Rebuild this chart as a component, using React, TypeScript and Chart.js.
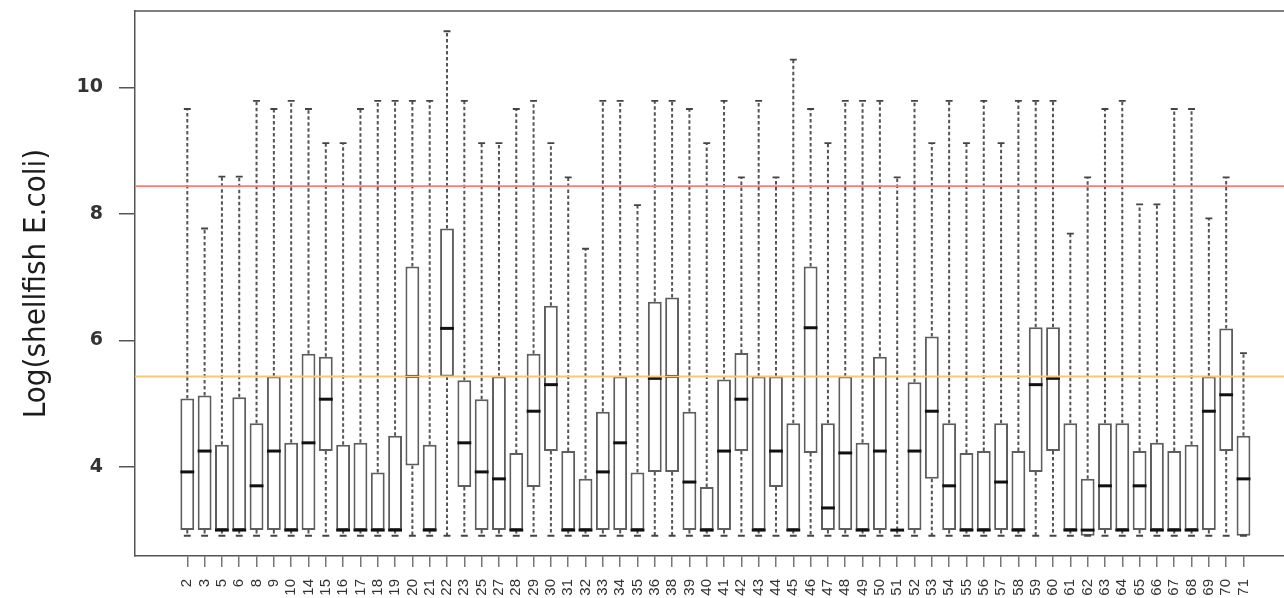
import React, { useEffect, useRef } from "react";
import { Chart, registerables } from "chart.js";

Chart.register(...registerables);

// ---- data ----
const categories = [
  "2", "3", "5", "6", "8", "9", "10", "14", "15", "16", "17", "18", "19",
  "20", "21", "22", "23", "25", "27", "28", "29",
  "30", "31", "32", "33", "34", "35", "36", "38", "39",
  "40", "41", "42", "43", "44", "45", "46", "47", "48", "49",
  "50", "51", "52", "53", "54", "55", "56", "57", "58", "59",
  "60", "61", "62", "63", "64", "65", "66", "67", "68", "69",
  "70", "71",
];

const q3 = [
  5.08, 5.13, 4.35, 5.10, 4.69, 5.43, 4.38, 5.79, 5.74, 4.35,
  4.38, 3.91, 4.49, 7.17, 4.35, 7.77, 5.37, 5.07, 5.43, 4.22,
  5.79, 6.55, 4.25, 3.81, 4.87, 5.43, 3.91, 6.61, 6.68, 4.87,
  3.68, 5.38, 5.80, 5.43, 5.43, 4.69, 7.17, 4.69, 5.43, 4.38,
  5.74, 3.00, 5.34, 6.06, 4.69, 4.22, 4.25, 4.69, 4.25, 6.21,
  6.21, 4.69, 3.81, 4.69, 4.69, 4.25, 4.38, 4.25, 4.35, 5.43,
  6.19, 4.49,
];

const median = [
  3.92, 4.25, 3.00, 3.00, 3.70, 4.25, 3.00, 4.38, 5.07, 3.00,
  3.00, 3.00, 3.00, 5.43, 3.00, 6.19, 4.38, 3.92, 3.81, 3.00,
  4.88, 5.30, 3.00, 3.00, 3.92, 4.38, 3.00, 5.40, 5.43, 3.76,
  3.00, 4.25, 5.07, 3.00, 4.25, 3.00, 6.20, 3.35, 4.22, 3.00,
  4.25, 3.00, 4.25, 4.88, 3.70, 3.00, 3.00, 3.76, 3.00, 5.30,
  5.40, 3.00, 3.00, 3.70, 3.00, 3.70, 3.00, 3.00, 3.00, 4.88,
  5.14, 3.81,
];

const q1 = [
  3.00, 3.00, 3.00, 3.00, 3.00, 3.00, 3.00, 3.00, 4.25, 3.00,
  3.00, 3.00, 3.00, 4.02, 3.00, 5.43, 3.68, 3.00, 3.00, 3.00,
  3.68, 4.25, 3.00, 3.00, 3.00, 3.00, 3.00, 3.92, 3.92, 3.00,
  3.00, 3.00, 4.25, 3.00, 3.68, 3.00, 4.22, 3.00, 3.00, 3.00,
  3.00, 3.00, 3.00, 3.81, 3.00, 3.00, 3.00, 3.00, 3.00, 3.92,
  4.25, 3.00, 2.91, 3.00, 3.00, 3.00, 3.00, 3.00, 3.00, 3.00,
  4.25, 2.91,
];

const whiskerHigh = [
  9.66, 7.77, 8.59, 8.59, 9.79, 9.66, 9.79, 9.66, 9.12, 9.12,
  9.66, 9.79, 9.79, 9.79, 9.79, 10.89, 9.79, 9.12, 9.12, 9.66,
  9.79, 9.12, 8.58, 7.45, 9.79, 9.79, 8.14, 9.79, 9.79, 9.66,
  9.12, 9.79, 8.58, 9.79, 8.58, 10.44, 9.66, 9.12, 9.79, 9.79,
  9.79, 8.58, 9.79, 9.12, 9.79, 9.12, 9.79, 9.12, 9.79, 9.79,
  9.79, 7.69, 8.58, 9.66, 9.79, 8.15, 8.15, 9.66, 9.66, 7.93,
  8.58, 5.80,
];

const whiskerLow = [
  2.91, 2.91, 2.91, 2.91, 2.91, 2.91, 2.91, 2.91, 2.91, 2.91,
  2.91, 2.91, 2.91, 2.91, 2.91, 2.91, 2.91, 2.91, 2.91, 2.91,
  2.91, 2.91, 2.91, 2.91, 2.91, 2.91, 2.91, 2.91, 2.91, 2.91,
  2.91, 2.91, 2.91, 2.91, 2.91, 2.91, 2.91, 2.91, 2.91, 2.91,
  2.91, 2.91, 2.91, 2.91, 2.91, 2.91, 2.91, 2.91, 2.91, 2.91,
  2.91, 2.91, 2.91, 2.91, 2.91, 2.91, 2.91, 2.91, 2.91, 2.91,
  2.91, 2.91,
];

const yTicks = [4, 6, 8, 10];
const upperLimit = 8.44;
const lowerLimit = 5.43;
const yTitle = "Log(shellfish E.coli)";

const boxExtras = {
  id: "boxExtras",
  afterDatasetsDraw(chart: any) {
    const { ctx, chartArea, scales } = chart;
    const x = scales.x;
    const y = scales.y;
    const meta = chart.getDatasetMeta(0);
    ctx.save();
    categories.forEach((_, i) => {
      const el = meta.data[i];
      const cx = x.getPixelForValue(i + 1);
      const half = el ? el.width / 2 : 7;
      const pHigh = y.getPixelForValue(whiskerHigh[i]);
      const pLow = y.getPixelForValue(whiskerLow[i]);
      const pQ3 = y.getPixelForValue(q3[i]);
      const pQ1 = y.getPixelForValue(q1[i]);
      const pMed = y.getPixelForValue(median[i]);

      // dashed whiskers
      ctx.setLineDash([3.5, 2.5]);
      ctx.strokeStyle = "#555555";
      ctx.lineWidth = 2;
      ctx.beginPath();
      if (whiskerHigh[i] > q3[i]) {
        ctx.moveTo(cx, pQ3);
        ctx.lineTo(cx, pHigh);
      }
      if (whiskerLow[i] < q1[i]) {
        ctx.moveTo(cx, pQ1);
        ctx.lineTo(cx, pLow);
      }
      ctx.stroke();

      // staples
      ctx.setLineDash([]);
      ctx.strokeStyle = "#444";
      ctx.lineWidth = 1.8;
      ctx.beginPath();
      ctx.moveTo(cx - half / 2, pHigh);
      ctx.lineTo(cx + half / 2, pHigh);
      ctx.moveTo(cx - half / 2, pLow);
      ctx.lineTo(cx + half / 2, pLow);
      ctx.stroke();

      // median
      ctx.strokeStyle = "#111";
      ctx.lineWidth = 3;
      ctx.beginPath();
      ctx.moveTo(cx - half, pMed);
      ctx.lineTo(cx + half, pMed);
      ctx.stroke();
    });

    // reference lines
    ctx.lineWidth = 1.6;
    ctx.strokeStyle = "#ff7a7a";
    const pu = y.getPixelForValue(upperLimit);
    ctx.beginPath();
    ctx.moveTo(chartArea.left, pu);
    ctx.lineTo(chartArea.right, pu);
    ctx.stroke();
    ctx.strokeStyle = "#fcc673";
    ctx.lineWidth = 2;
    const pl = y.getPixelForValue(lowerLimit);
    ctx.beginPath();
    ctx.moveTo(chartArea.left, pl);
    ctx.lineTo(chartArea.right, pl);
    ctx.stroke();

    // top frame
    ctx.strokeStyle = "#555";
    ctx.lineWidth = 1.5;
    ctx.beginPath();
    ctx.moveTo(chartArea.left, chartArea.top);
    ctx.lineTo(chartArea.right, chartArea.top);
    ctx.stroke();
    ctx.restore();
  },
};

export default function App() {
  const canvasRef = useRef<HTMLCanvasElement | null>(null);

  useEffect(() => {
    if (!canvasRef.current) return;
    const chart = new Chart(canvasRef.current, {
      type: "bar",
      data: {
        datasets: [
          {
            data: categories.map((_, i) => ({ x: i + 1, y: [q1[i], q3[i]] })) as any,
            backgroundColor: "#ffffff",
            borderColor: "#5e5e5e",
            borderWidth: 2,
            borderSkipped: false,
            barPercentage: 0.8,
            categoryPercentage: 1.0,
          },
        ],
      },
      options: {
        animation: false,
        responsive: true,
        maintainAspectRatio: false,
        layout: { padding: { top: 11, left: 0, right: 0, bottom: 0 } },
        plugins: {
          legend: { display: false },
          tooltip: { enabled: false },
          title: { display: false },
        },
        scales: {
          x: {
            type: "linear",
            min: -2.02,
            max: 64.34,
            offset: false,
            afterBuildTicks: (scale: any) => {
              scale.ticks = categories.map((_, i) => ({ value: i + 1 }));
            },
            afterFit: (scale: any) => {
              scale.height = 42;
              scale.paddingLeft = 0;
              scale.paddingRight = 0;
            },
            grid: {
              offset: false,
              drawOnChartArea: false,
              drawTicks: true,
              tickLength: 11,
              color: "#777",
              lineWidth: 1.5,
            },
            border: { display: true, color: "#555", width: 1.5 },
            ticks: {
              autoSkip: false,
              maxRotation: 90,
              minRotation: 90,
              padding: 12,
              color: "#333",
              font: { family: "'Liberation Sans', Arial, sans-serif", size: 15 },
              callback: (_v: any, idx: number) => categories[idx] ?? "",
            },
          },
          y: {
            min: 2.59,
            max: 11.21,
            afterBuildTicks: (scale: any) => {
              scale.ticks = yTicks.map((v) => ({ value: v }));
            },
            afterFit: (scale: any) => {
              scale.width = 135;
              scale.paddingTop = 0;
              scale.paddingBottom = 0;
            },
            grid: {
              drawOnChartArea: false,
              drawTicks: true,
              tickLength: 16,
              color: "#555",
              lineWidth: 1.5,
            },
            border: { display: true, color: "#555", width: 1.5 },
            ticks: {
              padding: 16,
              color: "#333",
              font: { family: "'DejaVu Sans', sans-serif", size: 19, weight: "bold" },
            },
            title: {
              display: true,
              text: yTitle,
              color: "#1c1c1c",
              padding: { top: 18, bottom: 0 },
              font: {
                family: "'Liberation Sans Narrow', 'DejaVu Sans Condensed', sans-serif",
                size: 31,
              },
            },
          },
        },
      },
      plugins: [boxExtras],
    });
    return () => chart.destroy();
  }, []);

  return (
    <div
      style={{
        position: "absolute",
        left: 0,
        top: 0,
        width: 1284,
        height: 598,
        background: "#ffffff",
        overflow: "hidden",
      }}
    >
      <canvas ref={canvasRef} />
    </div>
  );
}
